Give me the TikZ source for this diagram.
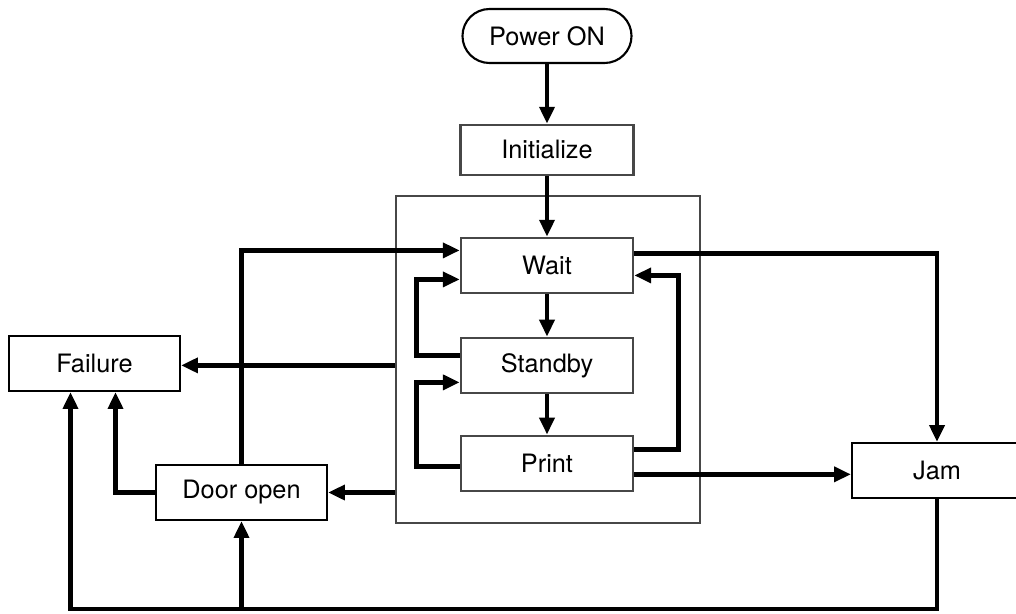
\documentclass[tikz,border=0pt]{standalone}
\usepackage{fontspec}
\setmainfont{TeX Gyre Heros}
\usetikzlibrary{positioning, arrows.meta}

\begin{document}
\begin{tikzpicture}[
		x=0.025cm, y=-0.025cm,
		>={Triangle[length=12pt, width=10.5pt]},
		state/.style={draw=black!72, line width=1.8pt, minimum width=4.3cm, minimum height=1.375cm, inner sep=0pt, font=\fontsize{18}{21}\selectfont},
		outer/.style={state, draw=black, line width=1.5pt, minimum width=4.275cm},
		flow/.style={->, line width=3.2pt}
		]
		
		\useasboundingbox (0,0) rectangle (1016,613);
		
		% Group frame around the working states
		\node[draw=black!72, line width=1.5pt, minimum width=7.6cm, minimum height=8.175cm] (group) at (548,359.5) {};
		
		% Main column, stacked below each other
		\node[outer, rounded corners=0.675cm, minimum width=4.225cm, minimum height=1.35cm] (power) at (547,36) {Power ON};
		\node[state, minimum width=4.325cm, minimum height=1.25cm, below=1.49cm of power] (init) {Initialize};
		\node[state, below=1.51cm of init] (wait) {Wait};
		\node[state, below=1.06cm of wait] (standby) {Standby};
		\node[state, below=1.01cm of standby] (print) {Print};
		
		% Outside states
		\node[outer] (failure) at (94.5,363.5) {Failure};
		\node[outer] (door) at (241.5,492.5) {Door open};
		\node[outer, minimum width=4.25cm] (jam) at (937,470.5) {Jam};
		
		% Straight steps down the column
		\draw[flow] (power) -- (init);
		\draw[flow] (init) -- (wait);
		\draw[flow] (wait) -- (standby);
		\draw[flow] (standby) -- (print);
		
		% Loops back up inside the frame
		\draw[flow] ([yshift=0.25cm]standby.west) -- ++(-1.075cm,0) |- ([yshift=-0.35cm]wait.west);
		\draw[flow] ([yshift=-0.075cm]print.west) -- ++(-1.075cm,0) |- ([yshift=-0.425cm]standby.west);
		\draw[flow] ([yshift=0.35cm]print.east) -- ++(1.1cm,0) |- ([yshift=-0.25cm]wait.east);
		
		% Paths to the jam state
		\draw[flow] ([yshift=0.3cm]wait.east) -| (jam.north);
		\draw[flow] ([yshift=-0.275cm]print.east) -- ([yshift=-0.275cm]print.east -| jam.west);
		
		% Leaving the frame on the left
		\draw[flow] (group.west |- standby) -- (failure.east |- standby);
		\draw[flow] (group.west |- door) -- (door.east);
		\draw[flow] (door.north) |- ([yshift=0.375cm]wait.west);
		\draw[flow] (door.west) -| ([xshift=0.525cm]failure.south);
		
		% Return line along the bottom
		\coordinate (jamdown) at ([yshift=-2.75cm]jam.south);
		\draw[flow] (jam.south) -- (jamdown) -| ([xshift=-0.6cm]failure.south);
		\draw[flow] (jamdown -| door.south) -- (door.south);
		
	\end{tikzpicture}
\end{document}
